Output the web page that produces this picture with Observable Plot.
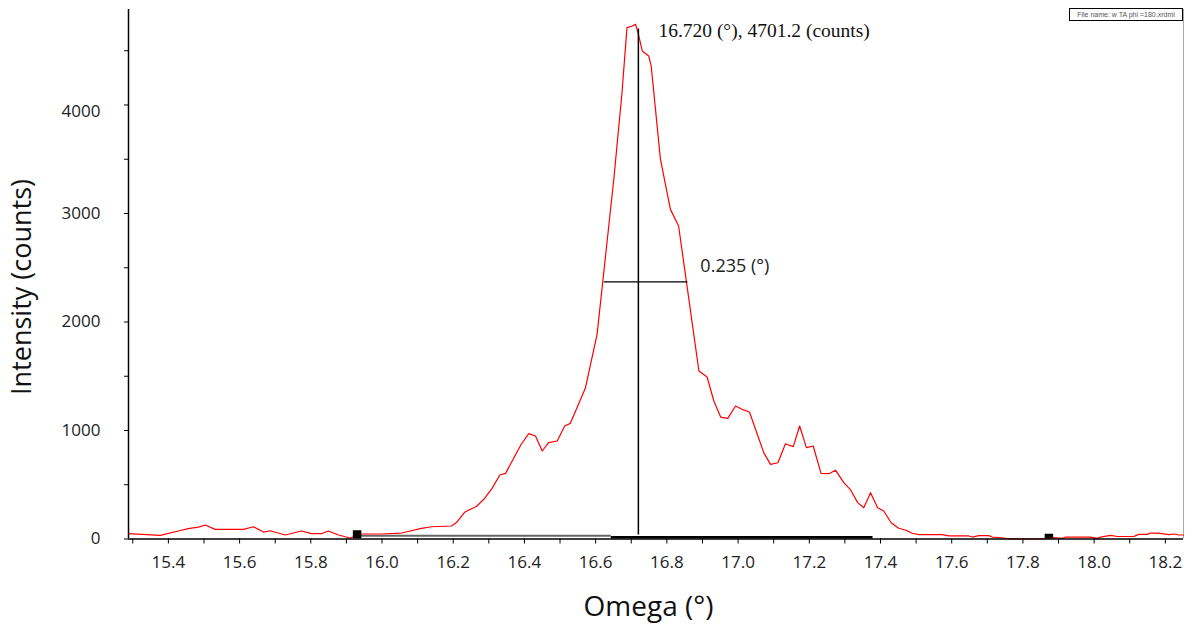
<!DOCTYPE html>
<html>
<head>
<meta charset="utf-8">
<script src="https://cdn.jsdelivr.net/npm/d3@7"></script>
<script src="https://cdn.jsdelivr.net/npm/@observablehq/plot@0.6"></script>
<style>
  html, body { margin: 0; padding: 0; background: #fff; }
  #wrap { position: relative; width: 1185px; height: 624px; overflow: hidden; }
  #fname { position: absolute; left: 1069px; top: 8px; width: 112px; height: 11px;
           border: 1.5px solid #000; background: #fff; font: 7px "Liberation Sans", Arial, sans-serif;
           color: #555; line-height: 11px; text-align: center; white-space: nowrap; }
</style>
</head>
<body>
<div id="wrap"><div id="fname">File name: w TA phi =180.xrdml</div></div>
<script>
// Omega scan (degrees) and intensity (counts)
const omega = [15.288,15.377,15.428,15.456,15.484,15.504,15.531,15.611,15.639,15.667,15.686,15.728,15.774,15.802,15.830,15.849,15.878,15.910,15.942,15.998,16.054,16.074,16.107,16.139,16.195,16.209,16.233,16.265,16.286,16.309,16.331,16.347,16.391,16.412,16.431,16.450,16.468,16.492,16.513,16.529,16.571,16.604,16.651,16.674,16.688,16.703,16.712,16.719,16.731,16.749,16.756,16.782,16.810,16.833,16.890,16.913,16.932,16.951,16.971,16.993,17.011,17.032,17.054,17.072,17.091,17.112,17.133,17.155,17.173,17.192,17.211,17.233,17.255,17.274,17.297,17.316,17.336,17.353,17.372,17.392,17.409,17.430,17.451,17.470,17.489,17.508,17.573,17.592,17.648,17.658,17.676,17.704,17.714,17.732,17.765,17.821,17.863,17.887,17.910,17.920,17.990,18.009,18.018,18.046,18.065,18.111,18.126,18.149,18.158,18.180,18.210,18.224,18.238,18.251];
const counts = [49,34,74,95,110,129,89,89,113,64,76,37,74,49,49,74,37,9,46,46,55,69,95,113,120,152,249,300,366,467,590,605,873,971,949,811,888,903,1041,1066,1389,1886,3315,4113,4713,4728,4743,4667,4498,4452,4359,3499,3038,2885,1548,1493,1272,1124,1112,1226,1195,1171,965,796,688,703,878,851,1041,842,857,605,602,633,519,452,335,288,427,288,258,150,99,83,53,40,40,28,28,18,31,31,18,14,2,0,3,12,6,18,18,6,18,34,23,23,43,43,55,55,40,46,37,37];

// Peak annotation
const peakOmega = 16.720;
const peakCounts = 4701.2;
const peakLabel = "16.720 (°), 4701.2 (counts)";
// FWHM
const fwhmFrom = 16.624;
const fwhmTo = 16.859;
const fwhmLevel = 2369;
const fwhmLabel = "0.235 (°)";
// background markers and baseline segments
const bgOmega = [15.930, 17.873];
const bgCounts = [41, 10];
const baseA = [{x1: 15.930, x2: 16.644, y: 30}];
const baseB = [{x1: 16.644, x2: 17.379, y: 16}];

// axes
const xDomain = [15.288, 18.251];
const yDomain = [0, 4880];
const xTicks = [15.4, 15.6, 15.8, 16.0, 16.2, 16.4, 16.6, 16.8, 17.0, 17.2, 17.4, 17.6, 17.8, 18.0, 18.2];
const xMinorTicks = [15.3, 15.5, 15.7, 15.9, 16.1, 16.3, 16.5, 16.7, 16.9, 17.1, 17.3, 17.5, 17.7, 17.9, 18.1];
const yTicks = [0, 1000, 2000, 3000, 4000];
const yMinorTicks = [500, 1500, 2500, 3500, 4500];
const xTitle = "Omega (°)";
const yTitle = "Intensity (counts)";

const scan = omega.map((o, i) => ({omega: o, counts: counts[i]}));
const bg = bgOmega.map((o, i) => ({omega: o, counts: bgCounts[i]}));
const yTop = yTicks[yTicks.length - 1];
const yLow = yTicks.slice(0, -1);

const chart = Plot.plot({
  width: 1185,
  height: 624,
  marginLeft: 128,
  marginRight: 2,
  marginTop: 9,
  marginBottom: 85.5,
  x: {domain: xDomain},
  y: {domain: yDomain},
  style: {fontFamily: "'Open Sans', sans-serif", background: "transparent", color: "#222"},
  marks: [
    Plot.ruleX([xDomain[1]], {stroke: "#aaa", strokeWidth: 1}),
    Plot.axisX(xMinorTicks, {tickSize: 5, tickFormat: () => "", label: null, stroke: "#000"}),
    Plot.axisX(xTicks, {tickSize: 5, tickPadding: 12, fontSize: 17, tickFormat: d => d.toFixed(1), label: null, stroke: "#000", fill: "#222"}),
    Plot.axisY(yMinorTicks, {tickSize: 4, tickFormat: () => "", label: null, stroke: "#000"}),
    Plot.axisY(yTicks, {tickSize: 4, tickFormat: () => "", label: null, stroke: "#000"}),
    Plot.text(yLow, {x: xDomain[0], y: d => d, text: d => String(d), dx: -28, textAnchor: "end", lineAnchor: "middle", fontSize: 17, fill: "#222"}),
    Plot.text([yTop], {x: xDomain[0], y: d => d, text: d => String(d), dx: -28, dy: 7, textAnchor: "end", lineAnchor: "middle", fontSize: 17, fill: "#222"}),
    Plot.ruleY(baseA, {x1: "x1", x2: "x2", y: "y", stroke: "#666", strokeWidth: 2}),
    Plot.ruleY(baseB, {x1: "x1", x2: "x2", y: "y", stroke: "#000", strokeWidth: 2.5}),
    Plot.line(scan, {x: "omega", y: "counts", stroke: "#ff0000", strokeWidth: 1.2}),
    Plot.dot(bg, {x: "omega", y: "counts", symbol: "square", r: 4.8, fill: "#000", stroke: null, clip: true}),
    Plot.ruleX([peakOmega], {y1: 0, y2: peakCounts, insetTop: -4, stroke: "#000", strokeWidth: 1.5}),
    Plot.ruleY([fwhmLevel], {x1: fwhmFrom, x2: fwhmTo, stroke: "#000", strokeWidth: 1.2}),
    Plot.ruleY([0], {stroke: "#000", strokeWidth: 1.5}),
    Plot.ruleX([xDomain[0]], {stroke: "#000", strokeWidth: 1.5}),
    Plot.text([peakLabel], {x: peakOmega, y: peakCounts, text: d => d, dx: 20, dy: 2, textAnchor: "start", lineAnchor: "middle", fontFamily: "'Liberation Serif', 'Times New Roman', serif", fontSize: 19.5, fill: "#111"}),
    Plot.text([fwhmLabel], {x: fwhmTo, y: fwhmLevel, text: d => d, dx: 12.5, dy: -15.6, textAnchor: "start", lineAnchor: "middle", fontSize: 18, fill: "#222"}),
    Plot.text([xTitle], {frameAnchor: "bottom", text: () => xTitle, dx: -7.5, dy: 68.5, textAnchor: "middle", lineAnchor: "middle", fontSize: 28, fill: "#111"}),
    Plot.text([yTitle], {frameAnchor: "left", text: () => yTitle, rotate: -90, dx: -106, dy: 12.75, textAnchor: "middle", lineAnchor: "middle", fontSize: 27, fill: "#111"})
  ]
});
document.getElementById("wrap").prepend(chart);
chart.style.position = "absolute";
chart.style.left = "0";
chart.style.top = "0";
</script>
</body>
</html>
